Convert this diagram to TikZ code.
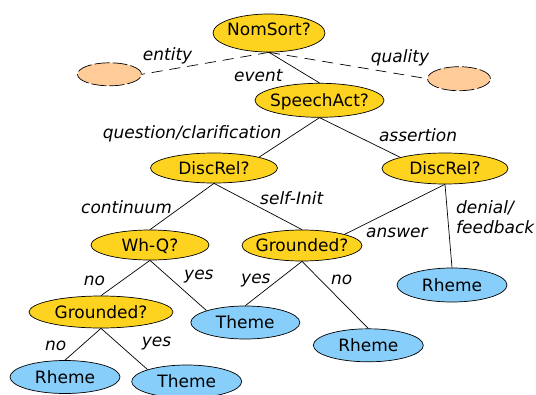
\documentclass[tikz,border=0pt]{standalone}
\usepackage{fontspec}
\setmainfont{DejaVu Sans}
\usetikzlibrary{shapes.geometric}

\definecolor{askyellow}{HTML}{FDD31F}
\definecolor{leafblue}{HTML}{87CEFA}
\definecolor{openpeach}{HTML}{FFCC99}

\tikzset{
  box/.style={ellipse, draw=black, line width=0.7pt, inner ysep=0pt, inner xsep=-40pt,
    font=\fontsize{17}{20}\selectfont, text height=12.5pt, text depth=0pt},
  ask/.style={box, fill=askyellow},
  leaf/.style={box, fill=leafblue},
  open/.style={ellipse, draw=black, line width=0.7pt, fill=openpeach,
    dash pattern=on 15pt off 3pt, inner sep=0pt},
  edge/.style={draw=black, line width=0.7pt},
  softedge/.style={edge, dash pattern=on 11pt off 7pt},
  lbl/.style={font=\fontsize{17}{20.3}\selectfont\itshape, inner sep=0pt, anchor=base west}
}

\begin{document}
\begin{tikzpicture}[x=1pt, y=-1pt]
\useasboundingbox (0,0) rectangle (536,394);

% decision nodes
\node[ask, minimum width=112pt, minimum height=38pt, text depth=7.5pt] (nom) at (269,33) {NomSort?};
\node[open, minimum width=64pt, minimum height=23pt] (entity) at (109.5,74.3) {};
\node[open, minimum width=63pt, minimum height=24pt] (quality) at (459,78.7) {};
\node[ask, minimum width=129pt, minimum height=34pt] (speech) at (319.5,100.3) {SpeechAct?};
\node[ask, minimum width=127pt, minimum height=30pt] (dl) at (214,168) {DiscRel?};
\node[ask, minimum width=126pt, minimum height=31pt] (dr) at (445,168.5) {DiscRel?};
\node[ask, minimum width=118pt, minimum height=30pt] (whq) at (150,245) {Wh-Q?};
\node[ask, minimum width=120pt, minimum height=31pt] (gm) at (302,245.5) {Grounded?};
\node[ask, minimum width=144pt, minimum height=32pt] (gl) at (101,312) {Grounded?};

% leaves
\node[leaf, minimum width=110pt, minimum height=34pt] (rr) at (452,285) {Rheme};
\node[leaf, minimum width=109pt, minimum height=33pt] (tm) at (245.3,322.5) {Theme};
\node[leaf, minimum width=110pt, minimum height=33pt] (rm) at (368.3,345.3) {Rheme};
\node[leaf, minimum width=110pt, minimum height=33pt] (rbl) at (65,377) {Rheme};
\node[leaf, minimum width=110pt, minimum height=33pt] (tbl) at (186.7,381.5) {Theme};

% connectors
\path[softedge] (nom.south) -- (entity.east);
\path[softedge] (nom.south) -- (quality.west);
\path[edge] (nom.south) -- (speech.north);
\path[edge] (speech.south) -- (dl.north east);
\path[edge] (speech.south) -- (dr.north west);
\path[edge] (dl.south) -- (whq.north);
\path[edge] (dl.south) -- (gm.north);
\path[edge] (dr.south) -- (gm.north east);
\path[edge] (dr.south) -- (rr.north);
\path[edge] (whq.south) -- (gl.north);
\path[edge] (whq.south) -- (tm.north west);
\path[edge] (gm.south) -- (tm.north);
\path[edge] (gm.south) -- (rm.north);
\path[edge] (gl.south) -- (rbl.north);
\path[edge] (gl.south) -- (tbl.north west);

% branch labels
\node[lbl] (l-entity) at (142.7,60) {entity};
\node[lbl] (l-event) at (234,81.7) {event};
\node[lbl] (l-quality) at (370.7,62.7) {quality};
\node[lbl] (l-question) at (102.6,138.3) {question/clarification};
\node[lbl] (l-assertion) at (378.8,141) {assertion};
\node[lbl] (l-continuum) at (81,213) {continuum};
\node[lbl] (l-selfinit) at (260,204.4) {self-Init};
\node[lbl] (l-answer) at (366,237.8) {answer};
\node[lbl, anchor=north west, align=left] (l-denial) at (456,200.1) {denial/\\feedback};
\node[lbl] (l-no1) at (83.7,285) {no};
\node[lbl] (l-yes1) at (184,279.3) {yes};
\node[lbl] (l-yes2) at (241,283.4) {yes};
\node[lbl] (l-no2) at (331,284.4) {no};
\node[lbl] (l-no3) at (45,350) {no};
\node[lbl] (l-yes3) at (141.7,346.7) {yes};
\end{tikzpicture}
\end{document}
